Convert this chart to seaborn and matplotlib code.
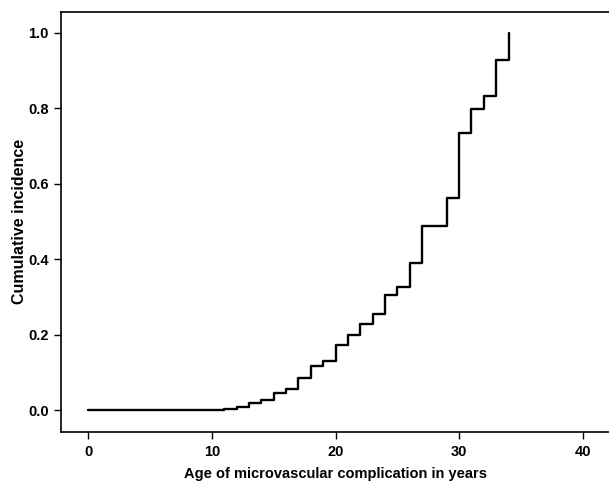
import matplotlib
matplotlib.use("Agg")
import matplotlib.pyplot as plt
import seaborn as sns
import pandas as pd

ages = [0, 11, 12, 13, 14, 15, 16, 17, 18, 19, 20, 21, 22, 23, 24, 25, 26, 27, 29, 30, 31, 32, 33, 34]
cum_incidence = [0.0, 0.0035, 0.008, 0.019, 0.0265, 0.044, 0.056, 0.085, 0.118, 0.129, 0.172,
                 0.199, 0.227, 0.254, 0.304, 0.327, 0.391, 0.488, 0.563, 0.733, 0.797, 0.832, 0.929, 1.0]
x_ticks = [0, 10, 20, 30, 40]
y_ticks = [0.0, 0.2, 0.4, 0.6, 0.8, 1.0]

sns.set_style("ticks")
plt.rcParams['font.family'] = ['Liberation Sans', 'DejaVu Sans']
plt.rcParams['font.weight'] = 'bold'
plt.rcParams['text.color'] = 'black'
plt.rcParams['axes.labelcolor'] = 'black'
plt.rcParams['xtick.color'] = 'black'
plt.rcParams['ytick.color'] = 'black'

df = pd.DataFrame({"age": ages, "ci": cum_incidence})

fig = plt.figure(figsize=(6.09, 4.84), dpi=100)
ax = fig.add_axes([0.1002, 0.1074, 0.9, 0.8684])
sns.lineplot(data=df, x="age", y="ci", drawstyle="steps-post", estimator=None,
             color="black", linewidth=1.7, ax=ax)

ax.set_xlim(-2.21, 42.14)
ax.set_ylim(-0.0583, 1.0557)
ax.set_xticks(x_ticks)
ax.set_yticks(y_ticks)
ax.set_yticklabels([f"{v:.1f}" for v in y_ticks])
ax.set_xticklabels([str(v) for v in x_ticks])
ax.tick_params(axis="both", length=5, width=1.0, labelsize=10.5, colors="black", pad=4)
for lab in ax.get_xticklabels() + ax.get_yticklabels():
    lab.set_fontweight("bold")
ax.set_xlabel("Age of microvascular complication in years", fontsize=10.5, fontweight="bold",
              labelpad=6, color="black")
ax.set_ylabel("Cumulative incidence", fontsize=11.5, fontweight="bold", labelpad=0.5, color="black")
for s in ["left", "bottom", "top"]:
    ax.spines[s].set_linewidth(1.2)
    ax.spines[s].set_color("black")
ax.spines["right"].set_visible(False)

fig.savefig("out.png", dpi=100)
